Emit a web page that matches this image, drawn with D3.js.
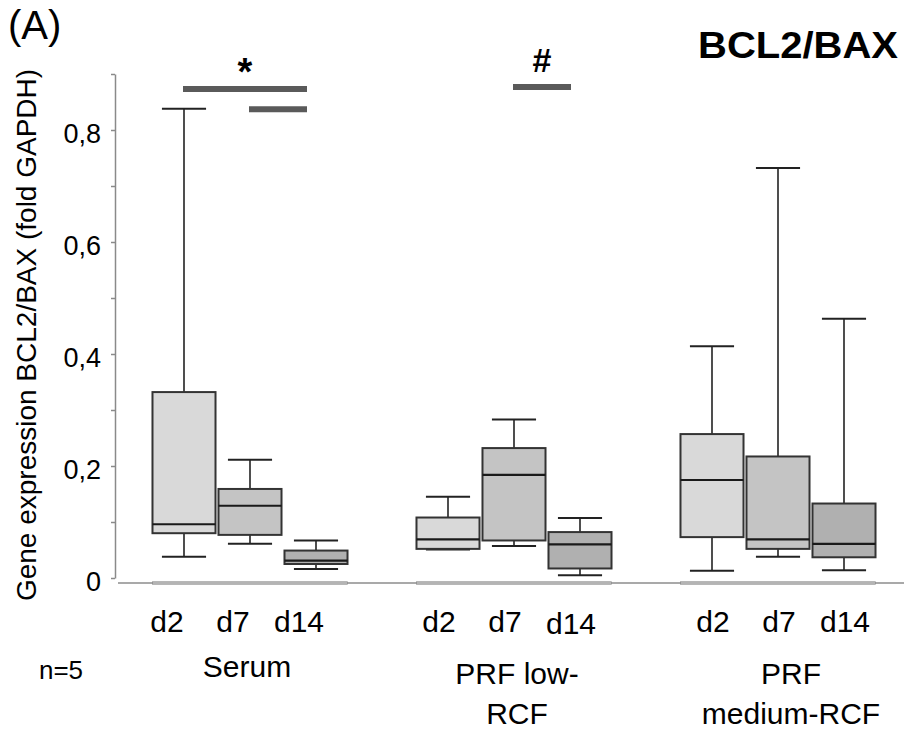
<!DOCTYPE html>
<html>
<head>
  <meta charset="UTF-8">
  <script src="https://cdn.jsdelivr.net/npm/d3@7"></script>
  <style>
      body { margin: 0; background: #fff; }
      text { font-family: "Liberation Sans", Arial, sans-serif; fill: #000; }
  </style>
</head>
<body>
<div id="root"></div>
<script>

  // groups and time points
  var groups = ["Serum", "PRF low-RCF", "PRF medium-RCF"];
  var groupLines = [["Serum"], ["PRF low-", "RCF"], ["PRF", "medium-RCF"]];
  var days = ["d2", "d7", "d14"];

  // five-number summaries per day: [min, q1, median, q3, max]
  var serumStats     = [[0.038, 0.080, 0.096, 0.332, 0.838], [0.061, 0.077, 0.129, 0.159, 0.211], [0.016, 0.025, 0.031, 0.049, 0.067]];
  var lowRcfStats    = [[0.051, 0.052, 0.069, 0.108, 0.145], [0.057, 0.067, 0.184, 0.232, 0.283], [0.005, 0.017, 0.060, 0.082, 0.107]];
  var mediumRcfStats = [[0.013, 0.073, 0.175, 0.257, 0.414], [0.038, 0.052, 0.069, 0.217, 0.732], [0.014, 0.037, 0.061, 0.133, 0.463]];
  var allStats = [serumStats, lowRcfStats, mediumRcfStats];

  // y ticks
  var yTicks = [0, 0.1, 0.2, 0.3, 0.4, 0.5, 0.6, 0.7, 0.8, 0.9];
  var yTickLabels = ["0", "", "0,2", "", "0,4", "", "0,6", "", "0,8", ""];

  // significance bars: group, from day, to day, level, mark
  var sigGroup = ["Serum", "Serum", "PRF low-RCF"];
  var sigFrom  = ["d2", "d7", "d7"];
  var sigTo    = ["d14", "d14", "d14"];
  var sigLevel = [0.873, 0.837, 0.877];
  var sigMark  = ["*", "", "#"];

  var fills = ["#d9d9d9", "#c4c4c4", "#b0b0b0"];

  var W = 904, H = 729;

  var svg = d3.select("#root").append("svg")
    .attr("width", W)
    .attr("height", H);

  // scales
  var y = d3.scaleLinear().domain([0, 0.9]).range([578, 74]);
  var xGroup = d3.scaleBand().domain(groups).range([118, 910]);
  var xDay = d3.scaleBand().domain(days).range([33, 231]).paddingInner(0.045).paddingOuter(0.0225);

  function boxX(g, d) { return xGroup(g) + xDay(d); }
  function boxC(g, d) { return boxX(g, d) + xDay.bandwidth() / 2; }

  // y axis
  var yAxis = svg.append("g")
    .attr("transform", "translate(115,0)")
    .call(d3.axisLeft(y).tickValues(yTicks).tickSize(4).tickSizeOuter(0)
      .tickFormat(function(d, i) { return yTickLabels[i]; }));
  yAxis.select(".domain").attr("stroke", "#8a8a8a").attr("stroke-width", 1.5);
  yAxis.selectAll(".tick line").attr("stroke", "#8a8a8a").attr("stroke-width", 1.5);
  yAxis.selectAll(".tick text")
    .attr("x", -14).attr("dy", "0.32em").attr("y", 4)
    .style("font-size", "27px").attr("fill", "#000")
    .style("font-family", "'Liberation Sans', Arial, sans-serif");

  // baseline
  svg.append("line")
    .attr("x1", 118).attr("x2", W)
    .attr("y1", 583).attr("y2", 583)
    .attr("stroke", "#555").attr("stroke-width", 1.2);

  // zero bars under each group
  svg.append("g").selectAll("rect")
    .data(groups)
    .join("rect")
    .attr("x", function(g) { return boxX(g, days[0]); })
    .attr("width", function(g) { return boxX(g, days[2]) + xDay.bandwidth() - boxX(g, days[0]); })
    .attr("y", 581.8).attr("height", 2.4)
    .attr("fill", "#bdbdbd").attr("stroke", "#888").attr("stroke-width", 0.7);

  // boxes
  var capW = xDay.bandwidth() * 0.7;
  groups.forEach(function(g, gi) {
    days.forEach(function(d, di) {
      var s = allStats[gi][di];
      var cx = boxC(g, d);
      var gg = svg.append("g");
      // whiskers
      gg.append("line").attr("x1", cx).attr("x2", cx).attr("y1", y(s[3])).attr("y2", y(s[4]))
        .attr("stroke", "#222").attr("stroke-width", 1.6);
      gg.append("line").attr("x1", cx).attr("x2", cx).attr("y1", y(s[1])).attr("y2", y(s[0]))
        .attr("stroke", "#222").attr("stroke-width", 1.6);
      gg.append("line").attr("x1", cx - capW / 2).attr("x2", cx + capW / 2).attr("y1", y(s[4])).attr("y2", y(s[4]))
        .attr("stroke", "#222").attr("stroke-width", 2);
      gg.append("line").attr("x1", cx - capW / 2).attr("x2", cx + capW / 2).attr("y1", y(s[0])).attr("y2", y(s[0]))
        .attr("stroke", "#222").attr("stroke-width", 2);
      // box
      gg.append("rect")
        .attr("x", boxX(g, d)).attr("width", xDay.bandwidth())
        .attr("y", y(s[3])).attr("height", y(s[1]) - y(s[3]))
        .attr("fill", fills[di]).attr("stroke", "#333").attr("stroke-width", 2);
      // median
      gg.append("line").attr("x1", boxX(g, d)).attr("x2", boxX(g, d) + xDay.bandwidth())
        .attr("y1", y(s[2])).attr("y2", y(s[2]))
        .attr("stroke", "#1a1a1a").attr("stroke-width", 2.2);
    });
  });

  // day labels
  var dayShift = [-17, -9, 1];
  groups.forEach(function(g, gi) {
    svg.append("g").selectAll("text")
      .data(days)
      .join("text")
      .attr("x", function(d) { return boxC(g, d) + dayShift[gi]; })
      .attr("y", function(d, di) { return gi === 1 && di === 2 ? 634 : 632; })
      .attr("text-anchor", "middle")
      .style("font-size", "30px")
      .text(function(d) { return d; });
  });

  // group labels
  var groupShift = [-3, 3, 13];
  groups.forEach(function(g, gi) {
    var cx = xGroup(g) + xGroup.bandwidth() / 2 + groupShift[gi];
    var lines = groupLines[gi];
    var y0 = lines.length === 1 ? 677 : 684;
    svg.append("g").selectAll("text")
      .data(lines)
      .join("text")
      .attr("x", cx)
      .attr("y", function(t, i) { return y0 + i * 40; })
      .attr("text-anchor", "middle")
      .style("font-size", "30px")
      .text(function(t) { return t; });
  });

  svg.append("text")
    .attr("x", 61).attr("y", 679)
    .attr("text-anchor", "middle")
    .style("font-size", "26px")
    .text("n=5");

  // significance bars
  var sigG = svg.append("g");
  sigGroup.forEach(function(g, i) {
    var x1 = boxC(g, sigFrom[i]) - 1;
    var x2 = boxC(g, sigTo[i]) - 9;
    sigG.append("line")
      .attr("x1", x1).attr("x2", x2)
      .attr("y1", y(sigLevel[i])).attr("y2", y(sigLevel[i]))
      .attr("stroke", "#5a5a5a").attr("stroke-width", 6);
    if (sigMark[i]) {
      sigG.append("text")
        .attr("x", (x1 + x2) / 2)
        .attr("y", sigMark[i] === "*" ? 85 : 72)
        .attr("text-anchor", "middle")
        .style("font-size", sigMark[i] === "*" ? "38px" : "34px")
        .style("font-weight", "bold")
        .text(sigMark[i]);
    }
  });

  // y axis title
  svg.append("text")
    .attr("transform", "translate(36,335) rotate(-90)")
    .attr("text-anchor", "middle")
    .style("font-size", "28px")
    .text("Gene expression BCL2/BAX (fold GAPDH)");

  // panel letter and title
  svg.append("text")
    .attr("x", 8).attr("y", 39)
    .style("font-size", "40px")
    .text("(A)");

  svg.append("text")
    .attr("x", 898).attr("y", 58)
    .attr("text-anchor", "end")
    .attr("textLength", 200)
    .attr("lengthAdjust", "spacingAndGlyphs")
    .style("font-size", "36px")
    .style("font-weight", "bold")
    .text("BCL2/BAX");

</script>
</body>
</html>
